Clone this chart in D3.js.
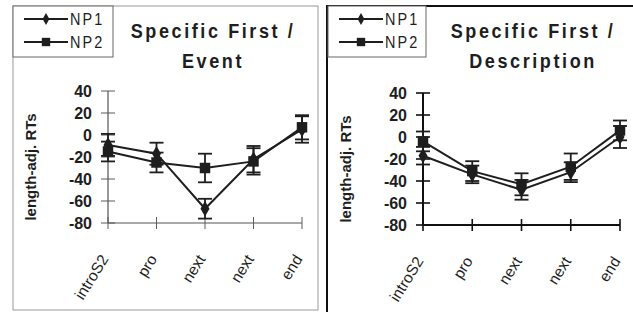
<!DOCTYPE html>
<html><head><meta charset="utf-8">
<script src="https://cdnjs.cloudflare.com/ajax/libs/d3/7.8.5/d3.min.js"></script>
<style>body{margin:0;background:#fff}svg{display:block}text{font-family:"Liberation Sans",Arial,sans-serif;fill:#1e1e1e}</style>
</head><body><svg id="c" width="633" height="312"></svg>
<script>
const categories = ["introS2", "pro", "next", "next", "end"];
const yTicks = [40, 20, 0, -20, -40, -60, -80];
const seriesNames = ["NP1", "NP2"];
const titles1 = ["Specific First /", "Event"];
const titles2 = ["Specific First /", "Description"];
const event_NP1 = [-9, -17, -67, -22, 5];
const event_NP1_err = [10, 10, 9, 12, 12];
const event_NP2 = [-15, -25, -30, -24, 7];
const event_NP2_err = [9, 9, 13, 12, 11];
const desc_NP1 = [-17, -34, -48, -32, 0];
const desc_NP1_err = [8, 8, 9, 9, 10];
const desc_NP2 = [-4, -31, -43, -27, 6];
const desc_NP2_err = [9, 9, 10, 12, 9];
const yLabel = "length-adj. RTs";

const svg = d3.select("#c");
const ink = "#1e1e1e";

const panels = [
  {box:[13,6,305,304], stroke:"#9a9a9a", sw:1, axisCol:"#555", axisW:1.2, x0:108, x1:302, yTop:91, yBot:223, titleX:213, titles:titles1, legend:[13,6,100,51], s:[[event_NP1,event_NP1_err],[event_NP2,event_NP2_err]]},
  {box:[327,6,310,310], stroke:"#111", sw:2, axisCol:"#111", axisW:2, x0:423, x1:620, yTop:93, yBot:225, titleX:533, titles:titles2, legend:[328,6,98,51], s:[[desc_NP1,desc_NP1_err],[desc_NP2,desc_NP2_err]]}
];

panels.forEach(p => {
  const g = svg.append("g");
  g.append("rect").attr("x",p.box[0]).attr("y",p.box[1]).attr("width",p.box[2]).attr("height",p.box[3])
    .attr("fill","none").attr("stroke",p.stroke).attr("stroke-width",p.sw);
  const x = d3.scalePoint().domain(d3.range(categories.length)).range([p.x0,p.x1]);
  const y = d3.scaleLinear().domain([-80,40]).range([p.yBot,p.yTop]);

  // y axis
  g.append("line").attr("x1",p.x0).attr("x2",p.x0).attr("y1",y(40)).attr("y2",y(-80)).attr("stroke",p.axisCol).attr("stroke-width",p.axisW);
  yTicks.forEach(t => {
    g.append("line").attr("x1",p.x0-7).attr("x2",p.x0+7).attr("y1",y(t)).attr("y2",y(t)).attr("stroke",p.axisCol).attr("stroke-width",p.axisW*0.8);
    g.append("text").attr("x",p.x0-16).attr("y",y(t)).attr("dy","0.36em").attr("text-anchor","end")
      .attr("font-size",16).attr("font-weight","bold").text(t);
  });
  // x axis
  g.append("line").attr("x1",p.x0).attr("x2",p.x1).attr("y1",y(-80)).attr("y2",y(-80)).attr("stroke",p.axisCol).attr("stroke-width",p.axisW);
  categories.forEach((c,i) => {
    g.append("line").attr("x1",x(i)).attr("x2",x(i)).attr("y1",y(-80)-6).attr("y2",y(-80)+6).attr("stroke",p.axisCol).attr("stroke-width",p.axisW*0.8);
    g.append("text").attr("transform",`translate(${x(i)+1},${y(-80)+36}) rotate(-58)`).attr("text-anchor","end")
      .attr("font-size",15.5).text(c);
  });
  // y label
  g.append("text").attr("transform",`translate(${p.x0-72},${(p.yTop+p.yBot)/2+10}) rotate(-90)`).attr("text-anchor","middle")
    .attr("font-size",15).attr("font-weight","bold").text(yLabel);
  // title
  p.titles.forEach((t,k) => {
    g.append("text").attr("transform",`translate(${p.titleX},${38+k*30}) scale(0.86,1)`).attr("text-anchor","middle")
      .attr("font-size",21).attr("font-weight","bold").attr("letter-spacing",3).text(t);
  });
  // series
  const line = d3.line().x((d,i)=>x(i)).y(d=>y(d));
  p.s.forEach(([vals,errs],si) => {
    g.append("path").attr("d",line(vals)).attr("fill","none").attr("stroke",ink).attr("stroke-width",2);
    vals.forEach((v,i) => {
      const cx = x(i);
      g.append("line").attr("x1",cx).attr("x2",cx).attr("y1",y(v+errs[i])).attr("y2",y(v-errs[i])).attr("stroke",ink).attr("stroke-width",1.8);
      [v+errs[i], v-errs[i]].forEach(e => g.append("line").attr("x1",cx-7).attr("x2",cx+7).attr("y1",y(e)).attr("y2",y(e)).attr("stroke",ink).attr("stroke-width",1.8));
      g.append("path").attr("transform",`translate(${cx},${y(v)})`)
        .attr("d", d3.symbol().type(si===0?d3.symbolDiamond:d3.symbolSquare).size(si===0?70:110)())
        .attr("fill",ink);
    });
  });
  // legend
  const L = p.legend;
  g.append("rect").attr("x",L[0]).attr("y",L[1]).attr("width",L[2]).attr("height",L[3]).attr("fill","#fff").attr("stroke","#666").attr("stroke-width",1);
  seriesNames.forEach((n,si) => {
    const ly = L[1]+13+si*23;
    g.append("line").attr("x1",L[0]+11).attr("x2",L[0]+55).attr("y1",ly).attr("y2",ly).attr("stroke",ink).attr("stroke-width",1.8);
    g.append("path").attr("transform",`translate(${L[0]+33},${ly})`)
      .attr("d", d3.symbol().type(si===0?d3.symbolDiamond:d3.symbolSquare).size(si===0?40:70)()).attr("fill",ink);
    g.append("text").attr("transform",`translate(${L[0]+57},${ly+6}) scale(0.85,1)`).attr("font-size",17).attr("letter-spacing",2.5).text(n);
  });
});
</script></body></html>
